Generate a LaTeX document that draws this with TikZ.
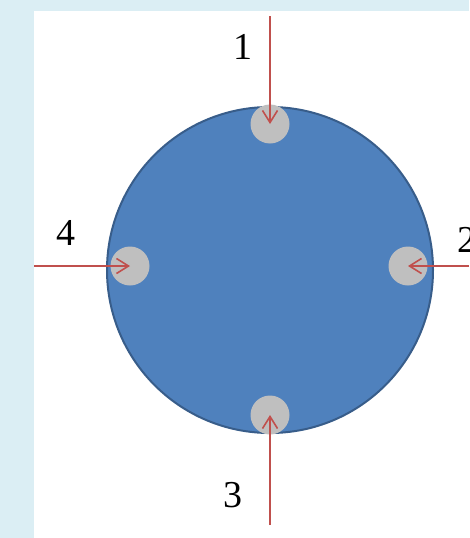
\documentclass[tikz,border=0pt]{standalone}
\definecolor{padblue} {RGB}{79,129,189}
\definecolor{paddark} {RGB}{56,93,138}
\definecolor{padgray} {RGB}{191,191,191}
\definecolor{padred}  {RGB}{192,80,77}
\definecolor{padback} {RGB}{219,238,244}
\usepackage{fontspec}
\setmainfont{Liberation Serif}
\usetikzlibrary{arrows.meta,positioning}
\tikzset{
  disc/.style={circle,draw=paddark,fill=padblue,line width=2pt,
               minimum size=326pt,inner sep=0pt},
  pin/.style={circle,fill=padgray,minimum size=39pt,inner sep=0pt},
  force/.style={-{Straight Barb[length=12pt,width=15pt,line width=1.6pt]},
                line width=1.6pt,padred},
  tag/.style={font=\fontsize{38}{40}\selectfont,inner sep=0pt},
}
\begin{document}
\begin{tikzpicture}[x=1pt,y=-1pt]
  % page frame
  \fill[padback] (0,0) rectangle (469,538);
  \fill[white] (34,11) rectangle (469,538);
  \useasboundingbox (0,0) rectangle (469,538);
  % plate with four contact points
  \node[disc] (plate) at (270,270) {};
  \node[pin] (p1) at (270,124) {};
  \node[pin] (p2) at (408,266) {};
  \node[pin] (p3) at (270,415) {};
  \node[pin] (p4) at (130,266) {};
  % loads
  \coordinate (f1) at (270,16);
  \coordinate (f2) at (469,266);
  \coordinate (f3) at (270,525);
  \coordinate (f4) at (34,266);
  \foreach \a/\b in {f1/p1, f2/p2, f3/p3, f4/p4}
    \draw[force] (\a) -- (\b.center);
  \node[tag] (n1) at (243,47) {1};
  \node[tag] (n2) at (467,240) {2};
  \node[tag] (n3) at (233,495) {3};
  \node[tag] (n4) at (66,233) {4};
\end{tikzpicture}
\end{document}
